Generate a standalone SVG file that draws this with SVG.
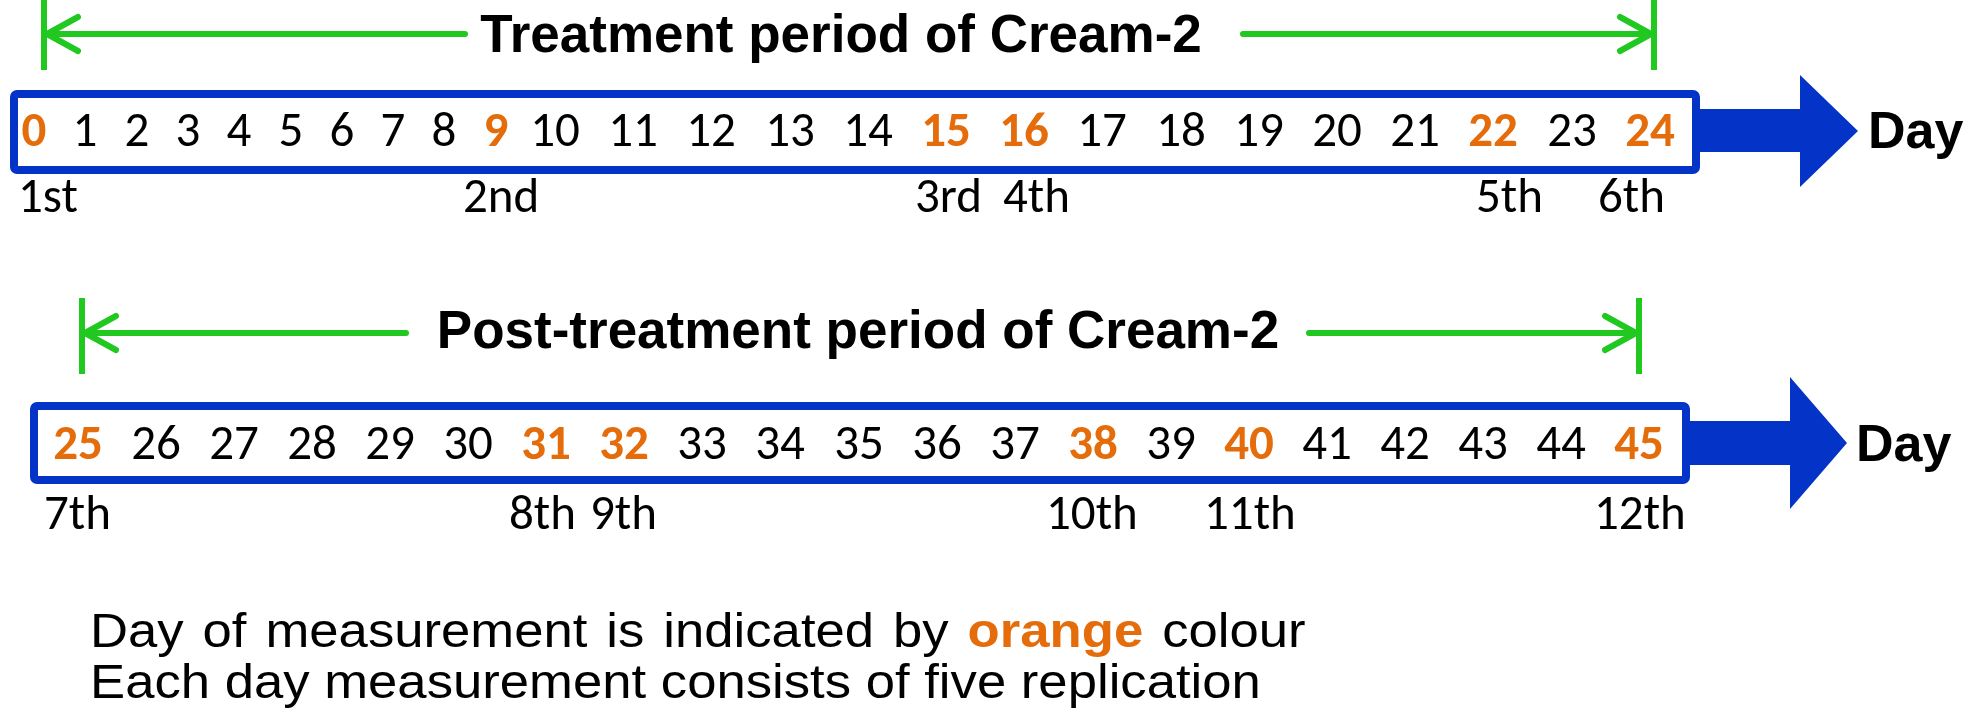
<svg xmlns="http://www.w3.org/2000/svg" width="1968" height="712" viewBox="0 0 1968 712">
<style>
.num{font-family:Carlito,'Open Sans',sans-serif;font-size:49px;fill:#000;text-anchor:middle}
.m{font-weight:bold;fill:#E46C0A}
.ord{font-family:Carlito,'Open Sans',sans-serif;font-size:49px;fill:#000}
.title{font-family:'Liberation Sans',Arial,sans-serif;font-weight:bold;font-size:53px;fill:#000;text-anchor:middle}
.day{font-family:'Liberation Sans',Arial,sans-serif;font-weight:bold;font-size:52px;fill:#000}
.foot{font-family:'Liberation Sans',Arial,sans-serif;font-size:49px;fill:#000}
.box{fill:#fff;stroke:#0433C8;stroke-width:8}
.blue{fill:#0433C8}
.g{stroke:#20C820;stroke-width:6;fill:none;stroke-linecap:round;stroke-linejoin:round}
.gb{stroke:#20C820;stroke-width:6;fill:none}
</style>
<rect width="1968" height="712" fill="#fff"/>

<g id="connectors">
  <line class="gb" x1="44" y1="0" x2="44" y2="70"/>
  <line class="gb" x1="1654" y1="0" x2="1654" y2="70"/>
  <line class="g" x1="46" y1="34" x2="465" y2="34"/>
  <line class="g" x1="1243" y1="34" x2="1652" y2="34"/>
  <polyline class="g" points="78,17 47,34 78,51"/>
  <polyline class="g" points="1620,17 1651,34 1620,51"/>
  <line class="gb" x1="82" y1="298" x2="82" y2="374"/>
  <line class="gb" x1="1639" y1="298" x2="1639" y2="374"/>
  <line class="g" x1="84" y1="333" x2="406" y2="333"/>
  <line class="g" x1="1309" y1="333" x2="1637" y2="333"/>
  <polyline class="g" points="116,316 85,333 116,350"/>
  <polyline class="g" points="1605,316 1636,333 1605,350"/>
  <polygon class="blue" points="1696,109 1800,109 1800,75 1858,131 1800,187 1800,152 1696,152"/>
  <polygon class="blue" points="1686,421 1790,421 1790,377 1847,443 1790,509 1790,465 1686,465"/>
</g>

<g id="title-treatment">
  <text class="title" x="841" y="52">Treatment period of Cream-2</text>
</g>
<g id="title-post">
  <text class="title" x="858" y="348">Post-treatment period of Cream-2</text>
</g>

<g id="timeline-1">
  <rect class="box" x="14" y="94" width="1682" height="76" rx="3"/>
  <text class="num m" x="34" y="146">0</text>
  <text class="num" x="85" y="146">1</text>
  <text class="num" x="137" y="146">2</text>
  <text class="num" x="188" y="146">3</text>
  <text class="num" x="239" y="146">4</text>
  <text class="num" x="291" y="146">5</text>
  <text class="num" x="342" y="146">6</text>
  <text class="num" x="393" y="146">7</text>
  <text class="num" x="444" y="146">8</text>
  <text class="num m" x="496" y="146">9</text>
  <text class="num" x="555" y="146">10</text>
  <text class="num" x="633" y="146">11</text>
  <text class="num" x="711" y="146">12</text>
  <text class="num" x="790" y="146">13</text>
  <text class="num" x="868" y="146">14</text>
  <text class="num m" x="946" y="146">15</text>
  <text class="num m" x="1024" y="146">16</text>
  <text class="num" x="1102" y="146">17</text>
  <text class="num" x="1181" y="146">18</text>
  <text class="num" x="1259" y="146">19</text>
  <text class="num" x="1337" y="146">20</text>
  <text class="num" x="1415" y="146">21</text>
  <text class="num m" x="1493" y="146">22</text>
  <text class="num" x="1572" y="146">23</text>
  <text class="num m" x="1650" y="146">24</text>
</g>
<g id="day-1"><text class="day" x="1868" y="148">Day</text></g>

<g id="ordinals-1">
  <text class="ord" x="18" y="212">1st</text>
  <text class="ord" x="463" y="212">2nd</text>
  <text class="ord" x="915" y="212">3rd</text>
  <text class="ord" x="1003" y="212">4th</text>
  <text class="ord" x="1476" y="212">5th</text>
  <text class="ord" x="1598" y="212">6th</text>
</g>

<g id="timeline-2">
  <rect class="box" x="34" y="406" width="1652" height="74" rx="3"/>
  <text class="num m" x="78" y="459">25</text>
  <text class="num" x="156" y="459">26</text>
  <text class="num" x="234" y="459">27</text>
  <text class="num" x="312" y="459">28</text>
  <text class="num" x="390" y="459">29</text>
  <text class="num" x="468" y="459">30</text>
  <text class="num m" x="546" y="459">31</text>
  <text class="num m" x="624" y="459">32</text>
  <text class="num" x="702" y="459">33</text>
  <text class="num" x="780" y="459">34</text>
  <text class="num" x="859" y="459">35</text>
  <text class="num" x="937" y="459">36</text>
  <text class="num" x="1015" y="459">37</text>
  <text class="num m" x="1093" y="459">38</text>
  <text class="num" x="1171" y="459">39</text>
  <text class="num m" x="1249" y="459">40</text>
  <text class="num" x="1327" y="459">41</text>
  <text class="num" x="1405" y="459">42</text>
  <text class="num" x="1483" y="459">43</text>
  <text class="num" x="1561" y="459">44</text>
  <text class="num m" x="1639" y="459">45</text>
</g>
<g id="day-2"><text class="day" x="1856" y="461">Day</text></g>

<g id="ordinals-2">
  <text class="ord" x="44" y="529">7th</text>
  <text class="ord" x="509" y="529">8th</text>
  <text class="ord" x="590" y="529">9th</text>
  <text class="ord" x="1046" y="529">10th</text>
  <text class="ord" x="1204" y="529">11th</text>
  <text class="ord" x="1594" y="529">12th</text>
</g>

<g id="legend" transform="translate(90,0) scale(1.075,1)">
  <text class="foot" x="0" y="647" word-spacing="4">Day of measurement is indicated by <tspan font-weight="bold" fill="#E46C0A">orange</tspan> colour</text>
  <text class="foot" x="0" y="698">Each day measurement consists of five replication</text>
</g>
</svg>
